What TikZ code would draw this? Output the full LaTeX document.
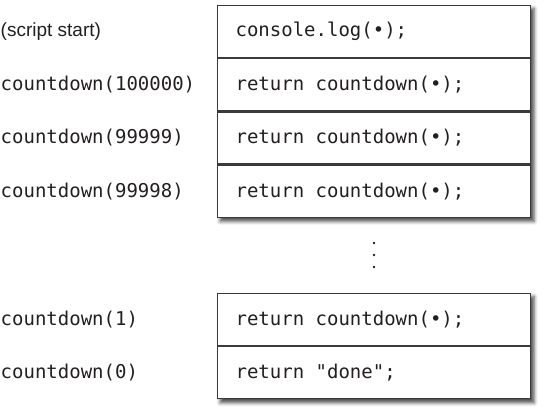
\documentclass[tikz,border=0pt]{standalone}
\usepackage{fontspec}
\setmainfont{Liberation Sans}
\setmonofont{DejaVu Sans Mono}[WordSpace={1,0,0}]
\usetikzlibrary{positioning,fit,shadows.blur,backgrounds}
\definecolor{ink}{HTML}{231F20}
\definecolor{frame}{HTML}{3A3A3A}
\newcommand{\monosp}{\hspace{0.6021em}}

\begin{document}
\begin{tikzpicture}[x=1pt, y=1pt,
  every node/.style={text=ink},
  row/.style={draw=frame, line width=1.2pt, fill=white, minimum height=52pt,
    text width=277pt, inner xsep=18pt, align=left,
    font=\fontsize{19}{22}\selectfont\ttfamily},
  call/.style={anchor=west, inner sep=0pt, font=\fontsize{19}{22}\selectfont\ttfamily},
  stack/.style={inner sep=0pt, fill=white,
    blur shadow={shadow xshift=3pt, shadow yshift=-3.5pt,
      shadow blur radius=3.5pt, shadow opacity=70}}]
  \useasboundingbox (0,0) rectangle (544,-411);
  \coordinate (edge) at (0.5,0);

  % upper part of the stack
  \node[row, anchor=north west] (log) at (217,-5) {console.log(•);};
  \node[row, below=0pt of log] (d1) {return\monosp countdown(•);};
  \node[row, below=0pt of d1] (d2) {return\monosp countdown(•);};
  \node[row, below=0pt of d2] (d3) {return\monosp countdown(•);};

  % lower part of the stack
  \node[row, anchor=north west] (d4) at (217,-293) {return\monosp countdown(•);};
  \node[row, below=0pt of d4] (done) {return\monosp "done";};

  \begin{scope}[on background layer]
    \node[stack, fit=(log)(d3)] (top) {};
    \node[stack, fit=(d4)(done)] (bottom) {};
  \end{scope}

  % skipped frames
  \node[inner sep=0pt] (gap) at (374,-255) {};
  \foreach \k in {-12,0,12}
    \fill[ink] ([yshift=\k pt]gap.center) circle (1.3pt);

  % callers
  \node[anchor=west, inner sep=0pt, font=\fontsize{19}{22}\selectfont]
    (start) at (edge |- log) {(script start)};
  \node[call] (c1) at (edge |- d1) {countdown(100000)};
  \node[call] (c2) at (edge |- d2) {countdown(99999)};
  \node[call] (c3) at (edge |- d3) {countdown(99998)};
  \node[call] (c4) at (edge |- d4) {countdown(1)};
  \node[call] (c5) at (edge |- done) {countdown(0)};
\end{tikzpicture}
\end{document}
